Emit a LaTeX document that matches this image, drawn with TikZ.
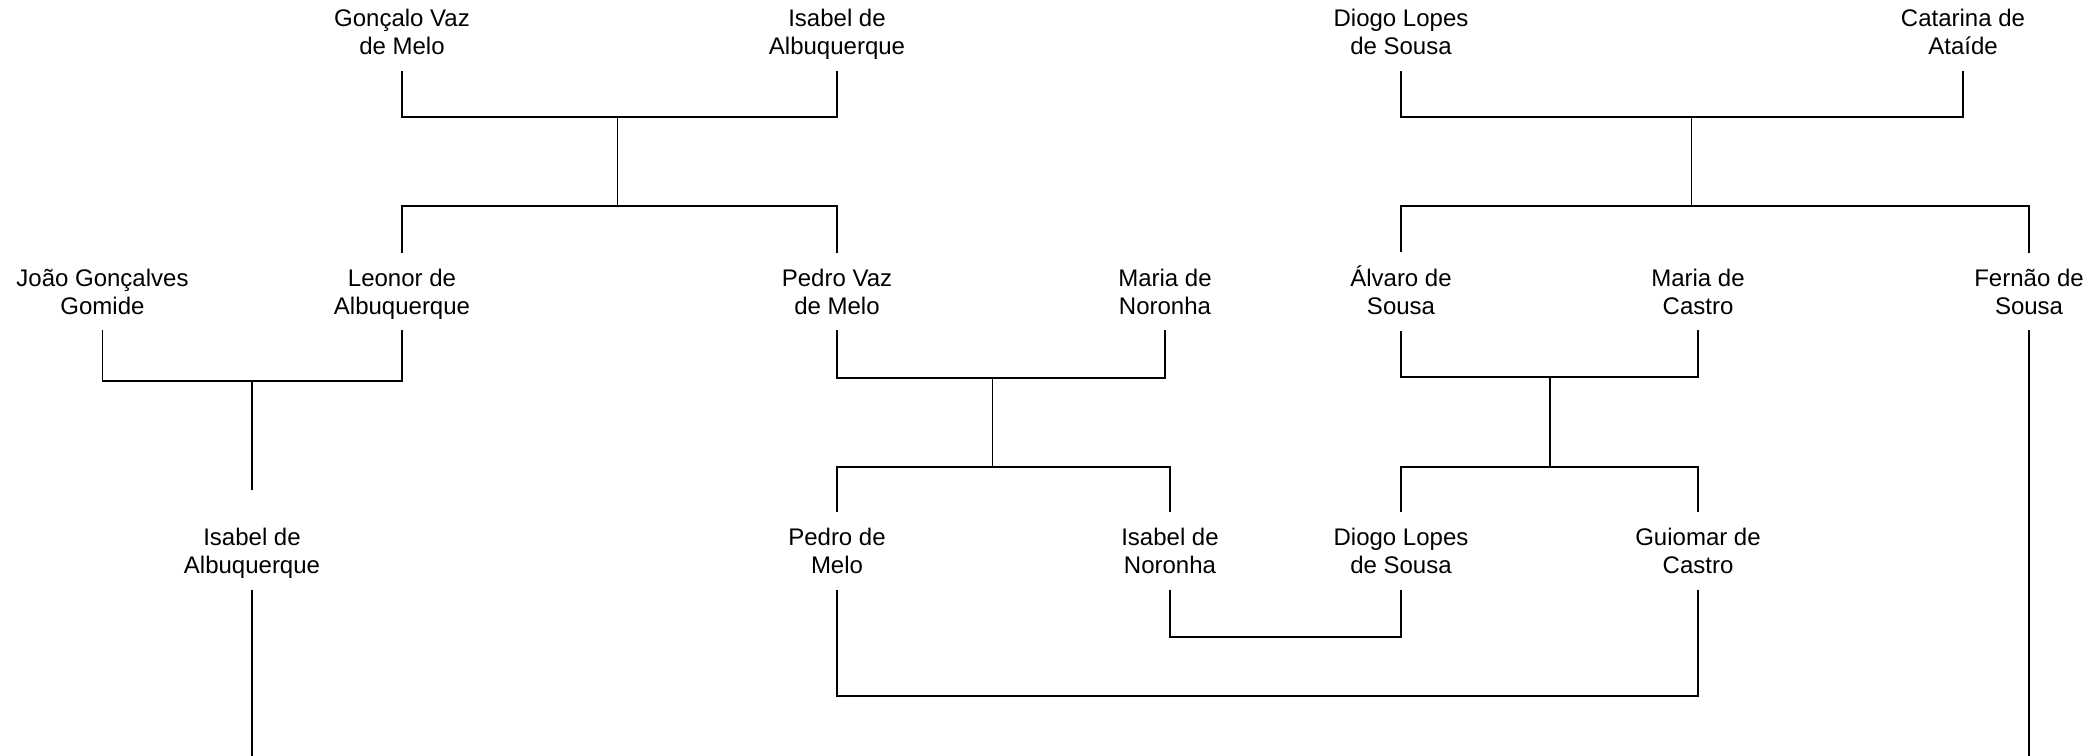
\documentclass[tikz,border=0pt]{standalone}
\usepackage{fontspec}
\setmainfont{Liberation Sans}
\newcommand\twolines[2]{\strut #1\\\strut #2}
\begin{document}
\begin{tikzpicture}[x=1pt,y=-1pt,
  person/.style={font=\fontsize{24}{28}\selectfont, align=center, inner xsep=2pt, inner ysep=8pt},
  link/.style={line width=1.1pt, draw=black, line cap=rect}]
\useasboundingbox (0,0) rectangle (2098,755);

% row 1
\node[person] (gvm)  at (402,35.1)  {\twolines{Gonçalo Vaz}{de Melo}};
\node[person] (iab)  at (837,35.1)  {\twolines{Isabel de}{Albuquerque}};
\node[person] (dls)  at (1401,35.1) {\twolines{Diogo Lopes}{de Sousa}};
\node[person] (cat)  at (1963,35.1) {\twolines{Catarina de}{Ataíde}};

% row 2
\node[person] (jgg)  at (102.5,294.4) {\twolines{João Gonçalves}{Gomide}};
\node[person] (leo)  at (402,294.4)   {\twolines{Leonor de}{Albuquerque}};
\node[person] (pvm)  at (837,294.4)   {\twolines{Pedro Vaz}{de Melo}};
\node[person] (mno)  at (1165,294.4)  {\twolines{Maria de}{Noronha}};
\node[person] (alv)  at (1401,294.4)  {\twolines{Álvaro de}{Sousa}};
\node[person] (mca)  at (1698,294.4)  {\twolines{Maria de}{Castro}};
\node[person] (fer)  at (2029,294.4)  {\twolines{Fernão de}{Sousa}};

% row 3
\node[person] (iab2) at (252,553.9)  {\twolines{Isabel de}{Albuquerque}};
\node[person] (pme)  at (837,553.9)  {\twolines{Pedro de}{Melo}};
\node[person] (ino)  at (1170,553.9) {\twolines{Isabel de}{Noronha}};
\node[person] (dls2) at (1401,553.9) {\twolines{Diogo Lopes}{de Sousa}};
\node[person] (gui)  at (1698,553.9) {\twolines{Guiomar de}{Castro}};

% junction coordinates
\coordinate (cA) at (617.5,117);
\coordinate (sA) at (617.5,206);
\coordinate (cB) at (1691.7,117);
\coordinate (sB) at (1691.7,206);
\coordinate (cC) at (252,381);
\coordinate (tC) at (252,489.3);
\coordinate (cD) at (992.6,378);
\coordinate (sD) at (992.6,467);
\coordinate (cE) at (1550,377);
\coordinate (sE) at (1550,467);
\coordinate (cF) at (1285,637);
\coordinate (cG) at (1267,696);
\coordinate (endI) at (252,755);
\coordinate (endF) at (2029,755);

% couple A: Gonçalo + Isabel
\draw[link] (gvm.south) -- (gvm.south |- cA) -- (iab.south |- cA) -- (iab.south);
\draw[link] (cA) -- (sA);
\draw[link] ([yshift=6pt]leo.north) -- (leo.north |- sA) -- (pvm.north |- sA) -- ([yshift=6pt]pvm.north);

% couple B: Diogo + Catarina
\draw[link] (dls.south) -- (dls.south |- cB) -- (cat.south |- cB) -- (cat.south);
\draw[link] (cB) -- (sB);
\draw[link] ([yshift=6pt]alv.north) -- (alv.north |- sB) -- (fer.north |- sB) -- ([yshift=6pt]fer.north);

% couple C: João + Leonor
\draw[link] (jgg.south) -- (jgg.south |- cC) -- (leo.south |- cC) -- (leo.south);
\draw[link] (cC) -- (tC);
\draw[link] (iab2.south) -- (endI);

% couple D: Pedro Vaz + Maria de Noronha
\draw[link] (pvm.south) -- (pvm.south |- cD) -- (mno.south |- cD) -- (mno.south);
\draw[link] (cD) -- (sD);
\draw[link] ([yshift=6pt]pme.north) -- (pme.north |- sD) -- (ino.north |- sD) -- ([yshift=6pt]ino.north);

% couple E: Álvaro + Maria de Castro
\draw[link] (alv.south) -- (alv.south |- cE) -- (mca.south |- cE) -- (mca.south);
\draw[link] (cE) -- (sE);
\draw[link] ([yshift=6pt]dls2.north) -- (dls2.north |- sE) -- (gui.north |- sE) -- ([yshift=6pt]gui.north);

% Fernão
\draw[link] (fer.south) -- (endF);

% couple F: Isabel de Noronha + Diogo Lopes
\draw[link] (ino.south) -- (ino.south |- cF) -- (dls2.south |- cF) -- (dls2.south);

% couple G: Pedro de Melo + Guiomar
\draw[link] (pme.south) -- (pme.south |- cG) -- (gui.south |- cG) -- (gui.south);
\end{tikzpicture}
\end{document}
